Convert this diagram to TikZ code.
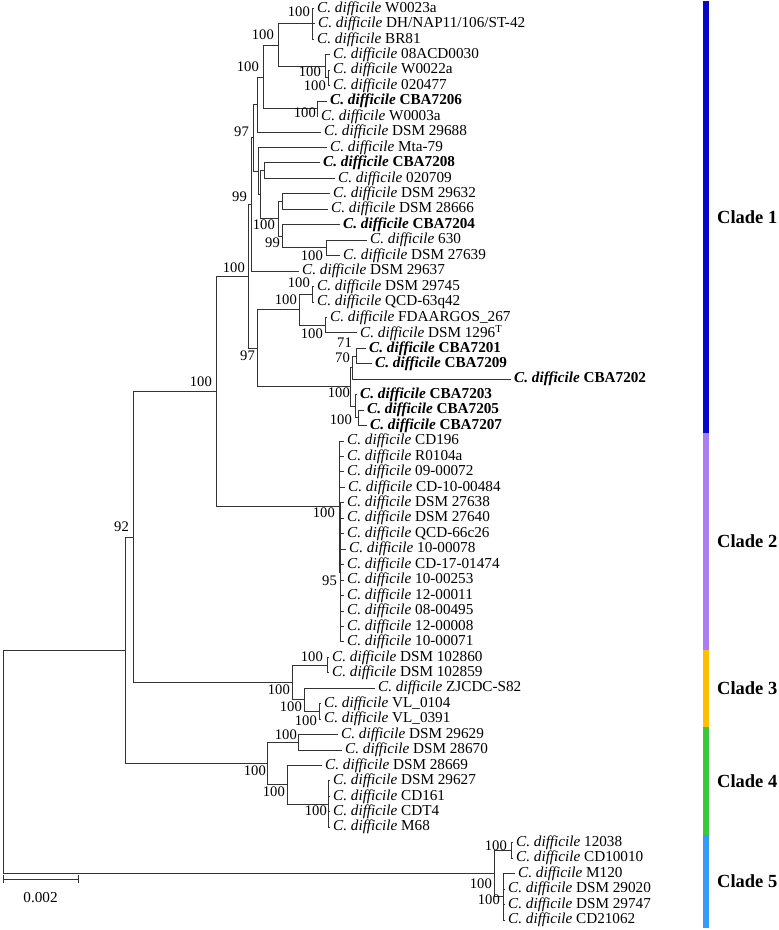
\documentclass[tikz,border=0pt]{standalone}
\usepackage{fontspec}
\setmainfont{Liberation Serif}
\usetikzlibrary{positioning}
\newcommand{\cdif}{\textit{C.\ difficile}}
\definecolor{cuno}{RGB}{8,8,200}
\definecolor{cdue}{RGB}{170,125,245}
\definecolor{ctre}{RGB}{255,190,0}
\definecolor{cquattro}{RGB}{60,200,60}
\definecolor{ccinque}{RGB}{55,155,245}
\tikzset{
  ramo/.style={line width=0.9pt, black!80},
  foglia/.style={inner sep=0pt, font=\fontsize{15.2}{15.2}\selectfont},
  fogliab/.style={inner sep=0pt, font=\fontsize{15.2}{15.2}\selectfont\bfseries},
  boot/.style={inner sep=0pt, anchor=east, font=\fontsize{14.6}{14.6}\selectfont},
  cladelab/.style={inner sep=0pt, anchor=west, font=\fontsize{18.5}{18.5}\selectfont\bfseries},
}
\begin{document}
\begin{tikzpicture}[x=1pt, y=-1pt]
    \useasboundingbox (0,0) rectangle (779,930);

    %%%%%%%%%% Foglie %%%%%%%%%%
    \foreach \n/\x/\stile/\lab in {
        1/314/foglia/W0023a, 2/315/foglia/{DH/NAP11/106/ST-42}, 3/314/foglia/BR81,
        4/330/foglia/08ACD0030, 5/330/foglia/W0022a, 6/330/foglia/020477,
        7/327/fogliab/CBA7206, 8/318/foglia/W0003a, 9/321/foglia/DSM 29688,
        10/327/foglia/Mta-79, 11/320/fogliab/CBA7208, 12/335/foglia/020709,
        13/330/foglia/DSM 29632, 14/328/foglia/DSM 28666, 15/340/fogliab/CBA7204,
        16/367/foglia/630, 17/340/foglia/DSM 27639, 18/299/foglia/DSM 29637,
        19/314/foglia/DSM 29745, 20/314/foglia/QCD-63q42, 21/327/foglia/FDAARGOS\_267,
        22/357/foglia/{DSM 1296\textsuperscript{T}}, 23/366/fogliab/CBA7201, 24/372/fogliab/CBA7209,
        25/511/fogliab/CBA7202, 26/357/fogliab/CBA7203, 27/364/fogliab/CBA7205,
        28/367/fogliab/CBA7207,
        29/344/foglia/CD196, 30/344/foglia/R0104a, 31/344/foglia/09-00072,
        32/345/foglia/CD-10-00484, 33/344/foglia/DSM 27638, 34/344/foglia/DSM 27640,
        35/344/foglia/QCD-66c26, 36/346/foglia/10-00078, 37/344/foglia/CD-17-01474,
        38/344/foglia/10-00253, 39/344/foglia/12-00011, 40/344/foglia/08-00495,
        41/344/foglia/12-00008, 42/344/foglia/10-00071,
        43/329/foglia/DSM 102860, 44/329/foglia/DSM 102859, 45/375/foglia/ZJCDC-S82,
        46/321/foglia/VL\_0104, 47/321/foglia/VL\_0391,
        48/338/foglia/DSM 29629, 49/342/foglia/DSM 28670, 50/322/foglia/DSM 28669,
        51/330/foglia/DSM 29627, 52/330/foglia/CD161, 53/330/foglia/CDT4, 54/330/foglia/M68,
        55/513/foglia/12038, 56/513/foglia/CD10010, 57/515/foglia/M120,
        58/505/foglia/DSM 29020, 59/505/foglia/DSM 29747, 60/505/foglia/CD21062}{
        \coordinate (t\n) at (\x, {8.4+15.45*(\n-1)});
        \node[\stile, right=3pt of t\n] (l\n) {\cdif{} \lab};
    }

    %%%%%%%%%% Nodi interni %%%%%%%%%%
    \coordinate (N1) at (312,23.85);
    \coordinate (N4) at (328,77.93);
    \coordinate (N3) at (325,66.34);
    \coordinate (N2) at (278,45.1);
    \coordinate (N5) at (317,108.83);
    \coordinate (N6) at (263,76.96);
    \coordinate (D) at (257,104.48);
    \coordinate (H) at (264,170.63);
    \coordinate (J) at (282.5,201.53);
    \coordinate (L1) at (326,247.88);
    \coordinate (K) at (282.5,236.29);
    \coordinate (I) at (278,218.91);
    \coordinate (G2) at (260.3,194.77);
    \coordinate (G) at (258.8,171.11);
    \coordinate (P) at (253.5,137.8);
    \coordinate (C) at (251,204.43);
    \coordinate (R) at (312,294.23);
    \coordinate (S) at (325,325.13);
    \coordinate (Q) at (299,309.68);
    \coordinate (W) at (356,356.03);
    \coordinate (U) at (352,367.61);
    \coordinate (X) at (358,417.83);
    \coordinate (V) at (355,406.24);
    \coordinate (T) at (350,386.93);
    \coordinate (E) at (257.5,348.3);
    \coordinate (B) at (248,276.37);
    \coordinate (Z) at (340.5,572.33);
    \coordinate (Y) at (339.3,506.66);
    \coordinate (A) at (216,391.52);
    \coordinate (C3a) at (327,665.03);
    \coordinate (C3c) at (319,711.38);
    \coordinate (C3b) at (304,699.79);
    \coordinate (C3) at (292,682.41);
    \coordinate (M) at (133,536.96);
    \coordinate (C4a) at (298,742.28);
    \coordinate (C4c) at (328.5,804.08);
    \coordinate (C4b) at (287,784.76);
    \coordinate (C4) at (267,763.52);
    \coordinate (L) at (125,650.24);
    \coordinate (C5a) at (511,850.43);
    \coordinate (C5b) at (503,896.78);
    \coordinate (C5) at (494,873.6);
    \coordinate (root) at (3,761.92);

    %%%%%%%%%% Rami %%%%%%%%%%
    \foreach \c in {1,2,3} \draw[ramo] (N1) |- (t\c);
    \draw[ramo] (N4) |- (t5);
    \draw[ramo] (N4) |- (t6);
    \draw[ramo] (N3) |- (t4);
    \draw[ramo] (N3) |- (N4);
    \draw[ramo] (N2) |- (N1);
    \draw[ramo] (N2) |- (N3);
    \draw[ramo] (N5) |- (t7);
    \draw[ramo] (N5) |- (t8);
    \draw[ramo] (N6) |- (N2);
    \draw[ramo] (N6) |- (N5);
    \draw[ramo] (D) |- (N6);
    \draw[ramo] (D) |- (t9);
    \draw[ramo] (H) |- (t11);
    \draw[ramo] (H) |- (t12);
    \draw[ramo] (J) |- (t13);
    \draw[ramo] (J) |- (t14);
    \draw[ramo] (L1) |- (t16);
    \draw[ramo] (L1) |- (t17);
    \draw[ramo] (K) |- (t15);
    \draw[ramo] (K) |- (L1);
    \draw[ramo] (I) |- (J);
    \draw[ramo] (I) |- (K);
    \draw[ramo] (G2) |- (H);
    \draw[ramo] (G2) |- (I);
    \draw[ramo] (G) |- (t10);
    \draw[ramo] (G) |- (G2);
    \draw[ramo] (P) |- (D);
    \draw[ramo] (P) |- (G);
    \draw[ramo] (C) |- (P);
    \draw[ramo] (C) |- (t18);
    \draw[ramo] (R) |- (t19);
    \draw[ramo] (R) |- (t20);
    \draw[ramo] (S) |- (t21);
    \draw[ramo] (S) |- (t22);
    \draw[ramo] (Q) |- (R);
    \draw[ramo] (Q) |- (S);
    \draw[ramo] (W) |- (t23);
    \draw[ramo] (W) |- (t24);
    \draw[ramo] (U) |- (W);
    \draw[ramo] (U) |- (t25);
    \draw[ramo] (X) |- (t27);
    \draw[ramo] (X) |- (t28);
    \draw[ramo] (V) |- (t26);
    \draw[ramo] (V) |- (X);
    \draw[ramo] (T) |- (U);
    \draw[ramo] (T) |- (V);
    \draw[ramo] (E) |- (Q);
    \draw[ramo] (E) |- (T);
    \draw[ramo] (B) |- (C);
    \draw[ramo] (B) |- (E);
    \foreach \c in {33,...,42} \draw[ramo] (Z) |- (t\c);
    \foreach \c in {29,...,32} \draw[ramo] (Y) |- (t\c);
    \draw[ramo] (Y) |- (Z);
    \draw[ramo] (A) |- (B);
    \draw[ramo] (A) |- (Y);
    \draw[ramo] (C3a) |- (t43);
    \draw[ramo] (C3a) |- (t44);
    \draw[ramo] (C3c) |- (t46);
    \draw[ramo] (C3c) |- (t47);
    \draw[ramo] (C3b) |- (t45);
    \draw[ramo] (C3b) |- (C3c);
    \draw[ramo] (C3) |- (C3a);
    \draw[ramo] (C3) |- (C3b);
    \draw[ramo] (M) |- (A);
    \draw[ramo] (M) |- (C3);
    \draw[ramo] (C4a) |- (t48);
    \draw[ramo] (C4a) |- (t49);
    \foreach \c in {51,...,54} \draw[ramo] (C4c) |- (t\c);
    \draw[ramo] (C4b) |- (t50);
    \draw[ramo] (C4b) |- (C4c);
    \draw[ramo] (C4) |- (C4a);
    \draw[ramo] (C4) |- (C4b);
    \draw[ramo] (L) |- (M);
    \draw[ramo] (L) |- (C4);
    \draw[ramo] (C5a) |- (t55);
    \draw[ramo] (C5a) |- (t56);
    \foreach \c in {57,...,60} \draw[ramo] (C5b) |- (t\c);
    \draw[ramo] (C5) |- (C5a);
    \draw[ramo] (C5) |- (C5b);
    \draw[ramo] (root) |- (L);
    \draw[ramo] (root) |- (C5);

    %%%%%%%%%% Bootstrap %%%%%%%%%%
    \node[boot] (bN1) at (310,12) {100};
    \node[boot] (bN2) at (274,35) {100};
    \node[boot] (bN4) at (321,72) {100};
    \node[boot] (bN3) at (326,86) {100};
    \node[boot] (bN5) at (316,113) {100};
    \node[boot] (bN6) at (259,67) {100};
    \node[boot] (bP) at (249,132) {97};
    \node[boot] (bC) at (247,197) {99};
    \node[boot] (bB) at (245,268) {100};
    \node[boot] (bI) at (275,225) {100};
    \node[boot] (bK) at (280,243) {99};
    \node[boot] (bL1) at (323,256) {100};
    \node[boot] (bE) at (255,356) {97};
    \node[boot] (bQ) at (297,300) {100};
    \node[boot] (bR) at (310,283) {100};
    \node[boot] (bS) at (323,334) {100};
    \node[boot] (bW) at (352,343) {71};
    \node[boot] (bU) at (350,358) {70};
    \node[boot] (bV) at (350,393) {100};
    \node[boot] (bX) at (352,420) {100};
    \node[boot] (bA) at (212,382) {100};
    \node[boot] (bY) at (335,513) {100};
    \node[boot] (bZ) at (337,581) {95};
    \node[boot] (bM) at (129,527) {92};
    \node[boot] (bC3a) at (323,657) {100};
    \node[boot] (bC3) at (290,690) {100};
    \node[boot] (bC3b) at (302,707) {100};
    \node[boot] (bC3c) at (317,721) {100};
    \node[boot] (bC4) at (266,771) {100};
    \node[boot] (bC4a) at (297,735) {100};
    \node[boot] (bC4b) at (285,792) {100};
    \node[boot] (bC4c) at (327,811) {100};
    \node[boot] (bC5a) at (507,846) {100};
    \node[boot] (bC5) at (492,884) {100};
    \node[boot] (bC5b) at (500,900) {100};

    %%%%%%%%%% Scala %%%%%%%%%%
    \coordinate (s1) at (3,879);
    \coordinate (s2) at (78,879);
    \draw[ramo] (s1) -- (s2);
    \draw[ramo] ([yshift=-4pt]s1) -- ([yshift=4pt]s1);
    \draw[ramo] ([yshift=-4pt]s2) -- ([yshift=4pt]s2);
    \node[foglia] (scala) at (40.5,898) {0.002};

    %%%%%%%%%% Cladi %%%%%%%%%%
    \fill[cuno] (703,1) rectangle (708.5,433.3);
    \fill[cdue] (703,433.3) rectangle (708.5,649.6);
    \fill[ctre] (703,649.6) rectangle (708.5,727);
    \fill[cquattro] (703,727) rectangle (708.5,835);
    \fill[ccinque] (703,835) rectangle (708.5,928);
    \node[cladelab] (k1) at (717,217) {Clade 1};
    \node[cladelab] (k2) at (717,541) {Clade 2};
    \node[cladelab] (k3) at (717,688) {Clade 3};
    \node[cladelab] (k4) at (717,781) {Clade 4};
    \node[cladelab] (k5) at (717,881) {Clade 5};
\end{tikzpicture}
\end{document}
